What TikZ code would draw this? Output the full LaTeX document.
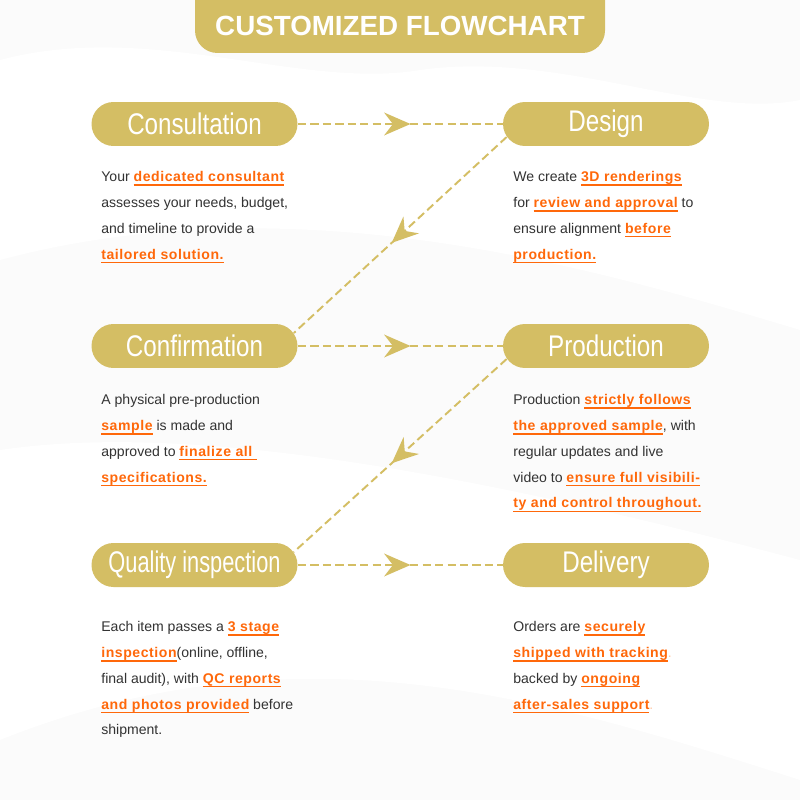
\documentclass[tikz,border=0pt]{standalone}
\usepackage{fontspec}
\usetikzlibrary{arrows.meta, positioning, calc, decorations.markings}
\setmainfont{Liberation Sans}
\newfontfamily\pillfont[FakeStretch=0.81]{Liberation Sans}
\newfontfamily\pillnarrow[FakeStretch=0.73]{Liberation Sans}
\definecolor{mygold}{RGB}{212, 190, 100}
\definecolor{myorange}{RGB}{255, 104, 10}
\definecolor{mytext}{RGB}{51, 51, 51}
\newsavebox{\keybox}
\newcommand{\keyw}[1]{\sbox{\keybox}{\color{myorange}\bfseries\addfontfeatures{LetterSpace=4}#1}%
    {\color{myorange}\rlap{\rule[-2.4pt]{\wd\keybox}{0.8pt}}}\usebox{\keybox}}

\begin{document}
\begin{tikzpicture}[x=0.02cm, y=-0.02cm,
    pill/.style={fill=mygold, rounded corners=0.44cm, minimum width=4.12cm, minimum height=0.88cm,
        inner sep=0, text=white, font=\pillfont\fontsize{17}{20}\selectfont},
    desc/.style={anchor=north west, align=left, inner sep=0, text=mytext,
        font=\fontsize{8}{14.7}\selectfont},
    flow/.style={draw=mygold, line width=1.1pt, dash pattern=on 4.7pt off 2.4pt,
        postaction={decorate, decoration={markings, mark=at position #1 with
            {\arrow[mygold]{Stealth[length=15pt, width=13pt, inset=5pt]}}}}},
    flow/.default=0.55]
    \useasboundingbox (0,0) rectangle (800,800);

    % --- Paper ---
    \fill[black!1.5] (0,0) rectangle (800,800);
    \fill[white] (0,60) .. controls (150,20) and (300,90) .. (420,70) .. controls (560,50) and (700,120) .. (800,100) -- (800,330) .. controls (600,270) and (300,180) .. (0,260) -- cycle;
    \fill[white] (0,450) .. controls (200,420) and (500,480) .. (800,560) -- (800,780) .. controls (550,700) and (300,620) .. (0,740) -- cycle;

    % --- Banner ---
    \fill[mygold] (195,0) [rounded corners=0.45cm] -- (195,53) -- (605,53) [sharp corners] -- (605,0) -- cycle;
    \node[text=white, font=\fontsize{15.8}{19}\selectfont\bfseries] (title) at (400,26) {CUSTOMIZED FLOWCHART};

    % --- Steps ---
    \node[pill] (cons) at (194.5,124) {Consultation};
    \node[pill] (design) at (606,124) {Design};
    \node[pill] (conf) at (194.5,346) {Confirmation};
    \node[pill] (prod) at (606,346) {Production};
    \node[pill, font=\pillnarrow\fontsize{17}{20}\selectfont] (qual) at (194.5,565) {Quality inspection};
    \node[pill] (deliv) at (606,565) {Delivery};

    % --- Dashed arrows ---
    \draw[flow] (cons) -- (design);
    \draw[flow=0.54] ($(design.west)+(4,13)$) -- ($(conf.east)+(-4,-13)$);
    \draw[flow] (conf) -- (prod);
    \draw[flow=0.54] ($(prod.west)+(4,13)$) -- ($(qual.east)+(-4,-13)$);
    \draw[flow] (qual) -- (deliv);

    % --- Texts ---
    \node[desc] (consText) at (101,171) {Your \keyw{dedicated consultant}\\
        assesses your needs, budget,\\
        and timeline to provide a\\
        \keyw{tailored solution.}};
    \node[desc] (designText) at (513,171) {We create \keyw{3D renderings}\\
        for \keyw{review and approval} to\\
        ensure alignment \keyw{before}\\
        \keyw{production.}};
    \node[desc] (confText) at (101,394) {A physical pre-production\\
        \keyw{sample} is made and\\
        approved to \keyw{finalize all~}\\
        \keyw{specifications.}};
    \node[desc] (prodText) at (513,394) {Production \keyw{strictly follows}\\
        \keyw{the approved sample}, with\\
        regular updates and live\\
        video to \keyw{ensure full visibili-}\\
        \keyw{ty and control throughout.}};
    \node[desc] (qualText) at (101,621) {Each item passes a \keyw{3 stage}\\
        \keyw{inspection}(online, offline,\\
        final audit), with \keyw{QC reports}\\
        \keyw{and photos provided} before\\
        shipment.};
    \node[desc] (delivText) at (513,621) {Orders are \keyw{securely}\\
        \keyw{shipped with tracking}\textcolor{myorange!35}{.}\\
        backed by \keyw{ongoing}\\
        \keyw{after-sales support}\textcolor{myorange!35}{.}};
\end{tikzpicture}
\end{document}
